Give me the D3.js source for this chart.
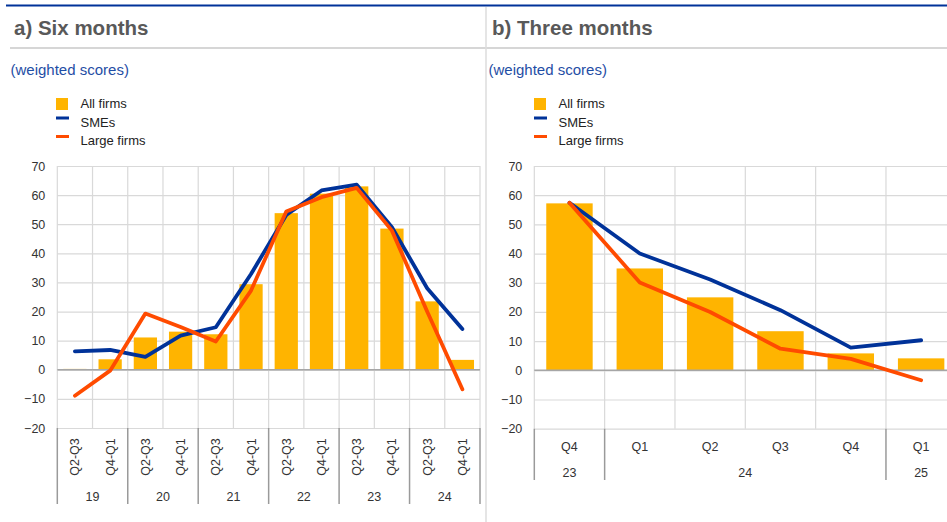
<!DOCTYPE html>
<html>
<head>
<meta charset="utf-8">
<script src="https://cdn.jsdelivr.net/npm/d3@7"></script>
<style>
  html, body { margin: 0; padding: 0; background: #fff; }
  svg { display: block; font-family: "Liberation Sans", Arial, sans-serif; }
</style>
</head>
<body>
<svg id="chart" width="947" height="522"></svg>
<script>
// ---------- DATA ----------
const seriesNames = ["All firms", "SMEs", "Large firms"];
const yTicks = [-20, -10, 0, 10, 20, 30, 40, 50, 60, 70];

// Panel a) Six months
const leftPeriods = ["Q2-Q3","Q4-Q1","Q2-Q3","Q4-Q1","Q2-Q3","Q4-Q1","Q2-Q3","Q4-Q1","Q2-Q3","Q4-Q1","Q2-Q3","Q4-Q1"];
const leftYears = ["19","20","21","22","23","24"];
const leftYearSpans = [2, 2, 2, 2, 2, 2];
const leftAll   = [0.3, 3.6, 11.1, 13.1, 12.2, 29.4, 53.8, 60.5, 63.0, 48.5, 23.5, 3.4];
const leftSMEs  = [6.3, 6.8, 4.4, 11.7, 14.6, 32.9, 53.2, 61.6, 63.6, 49.0, 28.0, 14.0];
const leftLarge = [-8.9, -0.3, 19.3, 14.7, 9.7, 27.2, 54.4, 59.3, 62.5, 47.8, 20.0, -6.7];

// Panel b) Three months
const rightPeriods = ["Q4","Q1","Q2","Q3","Q4","Q1"];
const rightYears = ["23","24","25"];
const rightYearSpans = [1, 4, 1];
const rightAll   = [57.2, 34.9, 25.0, 13.4, 5.8, 4.1];
const rightSMEs  = [57.4, 40.0, 31.1, 20.6, 7.8, 10.3];
const rightLarge = [57.4, 30.1, 20.0, 7.4, 3.9, -3.4];

// ---------- STYLE ----------
const C_BAR = "#FFB400", C_SME = "#003299", C_LARGE = "#FF4B00";
const C_GRID = "#d9d9d9", C_ZERO = "#a6a6a6", C_SEP = "#9a9a9a";
const C_TEXT = "#333333";

const svg = d3.select("#chart");

// top blue rule, header rule, divider
svg.append("line").attr("x1", 6).attr("x2", 947).attr("y1", 5.5).attr("y2", 5.5)
  .attr("stroke", "#003299").attr("stroke-width", 2);
svg.append("line").attr("x1", 10).attr("x2", 947).attr("y1", 48).attr("y2", 48)
  .attr("stroke", "#d6d6d6").attr("stroke-width", 2);
svg.append("line").attr("x1", 486).attr("x2", 486).attr("y1", 7).attr("y2", 522)
  .attr("stroke", "#dcdcdc").attr("stroke-width", 1.5);

function panel(opt) {
  const g = svg.append("g");
  const dx = opt.dx;
  // title
  g.append("text").attr("x", 14 + dx).attr("y", 35)
    .attr("font-size", 20.5).attr("font-weight", "bold").attr("fill", "#595959")
    .text(opt.title);
  g.append("text").attr("x", 10.5 + dx).attr("y", 75)
    .attr("font-size", 15).attr("fill", "#1f4ea5")
    .text("(weighted scores)");
  // legend
  const lg = g.append("g");
  const lx = 56 + dx;
  lg.append("rect").attr("x", lx).attr("y", 98).attr("width", 12).attr("height", 12).attr("fill", C_BAR);
  lg.append("rect").attr("x", lx).attr("y", 116.5).attr("width", 13).attr("height", 3).attr("fill", C_SME);
  lg.append("rect").attr("x", lx).attr("y", 135).attr("width", 13).attr("height", 3).attr("fill", C_LARGE);
  [108, 127, 145].forEach((yy, i) => {
    lg.append("text").attr("x", 80.5 + dx).attr("y", yy).attr("font-size", 13)
      .attr("fill", "#222").text(seriesNames[i]);
  });

  const n = opt.periods.length;
  const x = d3.scaleBand().domain(d3.range(n)).range([opt.x0, opt.x1])
    .paddingInner(0.34).paddingOuter(0.17);
  const y = d3.scaleLinear().domain([-20, 70]).range([opt.yb, 166]);
  const pad = (x.step() - x.bandwidth()) / 2;
  const bounds = d3.range(n).map(i => x(i) - pad).concat([opt.x1]);

  // horizontal gridlines
  g.append("g").attr("transform", `translate(${opt.x0},0)`)
    .call(d3.axisLeft(y).tickValues(yTicks).tickSize(-(opt.x1 - opt.x0)).tickFormat(""))
    .call(a => a.select(".domain").remove())
    .call(a => a.selectAll(".tick line").attr("stroke", C_GRID).attr("stroke-width", 1.2));
  // vertical gridlines
  g.append("g").selectAll("line").data(bounds).join("line")
    .attr("x1", d => d).attr("x2", d => d).attr("y1", y(70)).attr("y2", y(-20))
    .attr("stroke", C_GRID).attr("stroke-width", 1.2);

  // y labels
  g.append("g").attr("transform", `translate(${opt.x0 - 12},0)`)
    .call(d3.axisLeft(y).tickValues(yTicks).tickSize(0).tickPadding(0))
    .call(a => a.select(".domain").remove())
    .call(a => a.selectAll("text").attr("font-size", 12.5).attr("fill", C_TEXT)
      .attr("font-family", "Liberation Sans, Arial, sans-serif"));

  // bars
  g.append("g").selectAll("rect").data(opt.all).join("rect")
    .attr("x", (d, i) => x(i)).attr("width", x.bandwidth())
    .attr("y", d => y(Math.max(0, d))).attr("height", d => Math.abs(y(d) - y(0)))
    .attr("fill", C_BAR);

  // zero line
  g.append("line").attr("x1", opt.x0).attr("x2", opt.x1).attr("y1", y(0)).attr("y2", y(0))
    .attr("stroke", C_ZERO).attr("stroke-width", 1.5);

  // lines
  const line = d3.line().x((d, i) => x(i) + x.bandwidth() / 2).y(d => y(d));
  [[opt.sme, C_SME], [opt.large, C_LARGE]].forEach(([vals, col]) => {
    g.append("path").datum(vals).attr("d", line).attr("fill", "none")
      .attr("stroke", col).attr("stroke-width", 3.8)
      .attr("stroke-linejoin", "round").attr("stroke-linecap", "round");
  });

  // x axis: period labels
  const yb = y(-20);
  g.append("g").selectAll("text").data(opt.periods).join("text")
    .attr("font-size", 12.5).attr("fill", C_TEXT).attr("text-anchor", "middle")
    .attr("transform", (d, i) => opt.rotate
      ? `translate(${x(i) + x.bandwidth() / 2 + 4.5},${opt.qy}) rotate(-90)`
      : `translate(${x(i) + x.bandwidth() / 2},${opt.qy})`)
    .text(d => d);
  // year groups
  let start = 0;
  const groups = opt.years.map((yr, k) => {
    const s = start; start += opt.spans[k];
    return { yr, s, e: start };
  });
  const sepX = [bounds[0]].concat(groups.map(gr => bounds[gr.e]));
  g.append("g").selectAll("line").data(sepX).join("line")
    .attr("x1", d => d).attr("x2", d => d).attr("y1", yb).attr("y2", opt.sepBottom)
    .attr("stroke", C_SEP).attr("stroke-width", 1.5);
  g.append("g").selectAll("text").data(groups).join("text")
    .attr("x", d => (bounds[d.s] + bounds[d.e]) / 2).attr("y", opt.yy)
    .attr("font-size", 12.5).attr("fill", C_TEXT).attr("text-anchor", "middle")
    .text(d => d.yr);
}

panel({
  dx: 0, title: "a) Six months",
  x0: 57.3, x1: 480, yb: 428,
  periods: leftPeriods, years: leftYears, spans: leftYearSpans,
  all: leftAll, sme: leftSMEs, large: leftLarge,
  rotate: true, qy: 457, yy: 501, sepBottom: 504
});
panel({
  dx: 478, title: "b) Three months",
  x0: 534.3, x1: 956.3, yb: 428.7,
  periods: rightPeriods, years: rightYears, spans: rightYearSpans,
  all: rightAll, sme: rightSMEs, large: rightLarge,
  rotate: false, qy: 450.5, yy: 476.5, sepBottom: 480
});
</script>
</body>
</html>
